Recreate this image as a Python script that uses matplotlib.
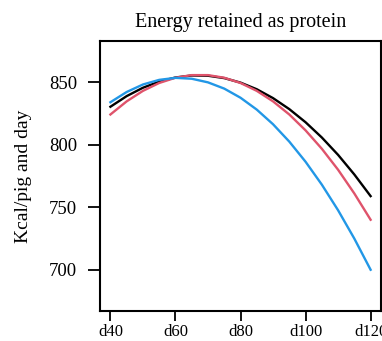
import matplotlib.pyplot as plt

# days of age
days = [40, 45, 50, 55, 60, 65, 70, 75, 80, 85, 90, 95, 100, 105, 110, 115, 120]

# energy retained as protein, kcal/pig and day
black_line = [830.4, 838.9, 845.6, 850.5, 853.8, 855.4, 855.2, 853.3, 849.7,
              844.4, 837.3, 828.5, 818.0, 805.8, 791.9, 776.2, 758.9]
red_line = [824.2, 834.7, 843.1, 849.4, 853.6, 855.7, 855.7, 853.6, 849.4,
            843.1, 834.7, 824.2, 811.5, 796.8, 780.0, 761.0, 740.0]
blue_line = [834.0, 842.2, 848.2, 851.9, 853.5, 852.8, 849.9, 844.9, 837.6,
             828.1, 816.4, 802.5, 786.4, 768.1, 747.6, 724.9, 700.0]

x_ticks = [40, 60, 80, 100, 120]
x_labels = ['d40', 'd60', 'd80', 'd100', 'd120']
y_ticks = [700, 750, 800, 850]

plt.rcParams['font.family'] = ['Liberation Serif', 'DejaVu Serif']

fig = plt.figure(figsize=(3.82, 3.41), dpi=100)
ax = fig.add_axes([0.2618, 0.088, 0.7356, 0.7918])

ax.plot(days, black_line, color='black', lw=1.7)
ax.plot(days, red_line, color='#DF536B', lw=1.7)
ax.plot(days, blue_line, color='#2297E6', lw=1.7)

ax.set_xlim(36.8, 123.2)
ax.set_ylim(667, 883)
ax.set_xticks(x_ticks)
ax.set_xticklabels(x_labels)
ax.set_yticks(y_ticks)

for s in ax.spines.values():
    s.set_linewidth(1.5)
ax.tick_params(direction='out', length=8.5, width=1.3, labelsize=13.5, pad=8)
ax.tick_params(axis='x', labelsize=12, pad=2, length=7.5)

ax.set_ylabel('Kcal/pig and day', fontsize=14, labelpad=12)
ax.set_title('Energy retained as protein', fontsize=14.5, pad=10)

fig.savefig('out.png', dpi=100)
